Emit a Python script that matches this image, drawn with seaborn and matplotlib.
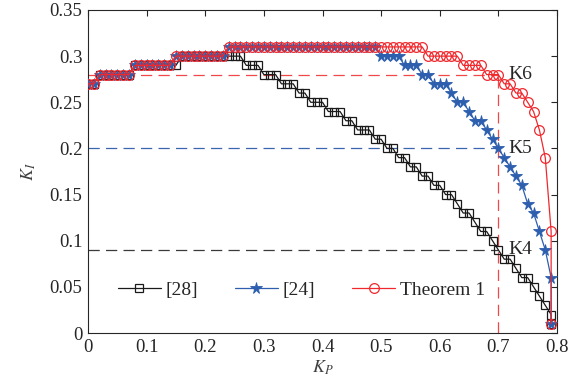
import matplotlib
matplotlib.use("Agg")
import matplotlib.pyplot as plt
import seaborn as sns

# ---------------- data ----------------
kp = [0.00, 0.01, 0.02, 0.03, 0.04, 0.05, 0.06, 0.07, 0.08, 0.09,
      0.10, 0.11, 0.12, 0.13, 0.14, 0.15, 0.16, 0.17, 0.18, 0.19,
      0.20, 0.21, 0.22, 0.23, 0.24, 0.25, 0.26, 0.27, 0.28, 0.29,
      0.30, 0.31, 0.32, 0.33, 0.34, 0.35, 0.36, 0.37, 0.38, 0.39,
      0.40, 0.41, 0.42, 0.43, 0.44, 0.45, 0.46, 0.47, 0.48, 0.49,
      0.50, 0.51, 0.52, 0.53, 0.54, 0.55, 0.56, 0.57, 0.58, 0.59,
      0.60, 0.61, 0.62, 0.63, 0.64, 0.65, 0.66, 0.67, 0.68, 0.69,
      0.70, 0.71, 0.72, 0.73, 0.74, 0.75, 0.76, 0.77, 0.78, 0.79,
      0.79]

ki_28 = [0.27, 0.27, 0.28, 0.28, 0.28, 0.28, 0.28, 0.28, 0.29, 0.29,
         0.29, 0.29, 0.29, 0.29, 0.29, 0.29, 0.30, 0.30, 0.30, 0.30,
         0.30, 0.30, 0.30, 0.30, 0.30, 0.30, 0.30, 0.29, 0.29, 0.29,
         0.28, 0.28, 0.28, 0.27, 0.27, 0.27, 0.26, 0.26, 0.25, 0.25,
         0.25, 0.24, 0.24, 0.24, 0.23, 0.23, 0.22, 0.22, 0.22, 0.21,
         0.21, 0.20, 0.20, 0.19, 0.19, 0.18, 0.18, 0.17, 0.17, 0.16,
         0.16, 0.15, 0.15, 0.14, 0.13, 0.13, 0.12, 0.11, 0.11, 0.10,
         0.09, 0.08, 0.08, 0.07, 0.06, 0.06, 0.05, 0.04, 0.03, 0.02,
         0.01]

ki_24 = [0.27, 0.27, 0.28, 0.28, 0.28, 0.28, 0.28, 0.28, 0.29, 0.29,
         0.29, 0.29, 0.29, 0.29, 0.29, 0.30, 0.30, 0.30, 0.30, 0.30,
         0.30, 0.30, 0.30, 0.30, 0.31, 0.31, 0.31, 0.31, 0.31, 0.31,
         0.31, 0.31, 0.31, 0.31, 0.31, 0.31, 0.31, 0.31, 0.31, 0.31,
         0.31, 0.31, 0.31, 0.31, 0.31, 0.31, 0.31, 0.31, 0.31, 0.31,
         0.30, 0.30, 0.30, 0.30, 0.29, 0.29, 0.29, 0.28, 0.28, 0.27,
         0.27, 0.27, 0.26, 0.25, 0.25, 0.24, 0.23, 0.23, 0.22, 0.21,
         0.20, 0.19, 0.18, 0.17, 0.16, 0.14, 0.13, 0.11, 0.09, 0.06,
         0.01]

ki_th1 = [0.27, 0.27, 0.28, 0.28, 0.28, 0.28, 0.28, 0.28, 0.29, 0.29,
          0.29, 0.29, 0.29, 0.29, 0.29, 0.30, 0.30, 0.30, 0.30, 0.30,
          0.30, 0.30, 0.30, 0.30, 0.31, 0.31, 0.31, 0.31, 0.31, 0.31,
          0.31, 0.31, 0.31, 0.31, 0.31, 0.31, 0.31, 0.31, 0.31, 0.31,
          0.31, 0.31, 0.31, 0.31, 0.31, 0.31, 0.31, 0.31, 0.31, 0.31,
          0.31, 0.31, 0.31, 0.31, 0.31, 0.31, 0.31, 0.31, 0.30, 0.30,
          0.30, 0.30, 0.30, 0.30, 0.29, 0.29, 0.29, 0.29, 0.28, 0.28,
          0.28, 0.27, 0.27, 0.26, 0.26, 0.25, 0.24, 0.22, 0.19, 0.11,
          0.01]

series_labels = ["[28]", "[24]", "Theorem 1"]

ref_kp = 0.70
ref_ki = [0.09, 0.20, 0.28]          # K4, K5, K6
ref_names = ["K4", "K5", "K6"]

xticks = [0, 0.1, 0.2, 0.3, 0.4, 0.5, 0.6, 0.7, 0.8]
xticklabels = ["0", "0.1", "0.2", "0.3", "0.4", "0.5", "0.6", "0.7", "0.8"]
yticks = [0, 0.05, 0.1, 0.15, 0.2, 0.25, 0.3, 0.35]
yticklabels = ["0", "0.05", "0.1", "0.15", "0.2", "0.25", "0.3", "0.35"]

# ---------------- style ----------------
sns.set_style("white")
plt.rcParams["font.family"] = ["Liberation Serif", "DejaVu Serif"]
plt.rcParams["mathtext.fontset"] = "stix"
TXT = "#262626"

c_black = "#1a1a1a"
c_blue = "#2d5fae"
c_red = "#f0282d"

fig = plt.figure(figsize=(5.85, 3.78), dpi=100)
ax = fig.add_axes([88 / 585, 1 - 333 / 378, 469 / 585, 323 / 378])

# reference dashed lines
ref_colors = ["#3a3a3a", "#3a66b0", "#f04848"]
for k, col in zip(ref_ki, ref_colors):
    ax.plot([0, ref_kp], [k, k], color=col, lw=0.9, dashes=(9, 5), zorder=1)
ax.plot([ref_kp, ref_kp], [0, ref_ki[2]], color="#f04848", lw=0.9,
        dashes=(9, 5), zorder=1)

sns.lineplot(x=kp, y=ki_28, ax=ax, estimator=None, sort=False,
             color=c_black, lw=0.9, marker="s", markersize=5.5,
             markerfacecolor="none", markeredgecolor=c_black,
             markeredgewidth=0.9, label=series_labels[0], zorder=2)
sns.lineplot(x=kp, y=ki_24, ax=ax, estimator=None, sort=False,
             color=c_blue, lw=0.9, marker="*", markersize=8.5,
             markerfacecolor=c_blue, markeredgecolor=c_blue,
             markeredgewidth=0.6, label=series_labels[1], zorder=3)
sns.lineplot(x=kp, y=ki_th1, ax=ax, estimator=None, sort=False,
             color=c_red, lw=0.9, marker="o", markersize=7,
             markerfacecolor="none", markeredgecolor=c_red,
             markeredgewidth=0.9, label=series_labels[2], zorder=4)

for name, k in zip(ref_names, ref_ki):
    ax.text(ref_kp + 0.017, k, name, fontsize=14, color=TXT,
            ha="left", va="center", zorder=5)

ax.set_xlim(0, 0.8)
ax.set_ylim(0, 0.35)
ax.set_xticks(xticks)
ax.set_xticklabels(xticklabels)
ax.set_yticks(yticks)
ax.set_yticklabels(yticklabels)
ax.tick_params(direction="in", length=4, width=0.8, colors=TXT,
               labelsize=13.5, top=True, right=True, pad=4)
for s in ax.spines.values():
    s.set_color(TXT)
    s.set_linewidth(0.8)
    s.set_visible(True)

ax.set_xlabel(r"$K_P$", fontsize=13, color="#404040", labelpad=2)
ax.set_ylabel(r"$K_I$", fontsize=13, color="#404040", labelpad=8)

leg = ax.legend(loc="center", bbox_to_anchor=(0.455, 0.133), ncol=3,
                frameon=False, fontsize=14, handlelength=2.2,
                handletextpad=0.25, columnspacing=1.9, borderpad=0.2)
for t in leg.get_texts():
    t.set_color(TXT)

fig.savefig("out.png", dpi=100)
